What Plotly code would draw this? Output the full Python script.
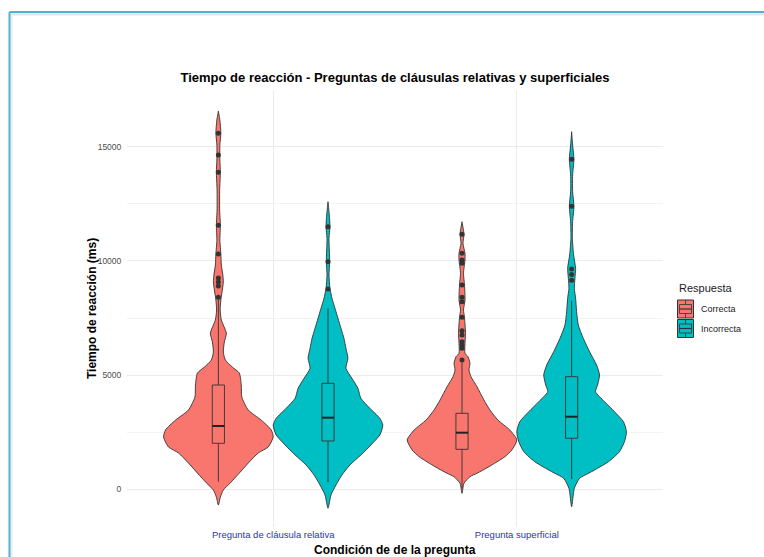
import plotly.graph_objects as go

# ---------------- data ----------------
categorias = ["Pregunta de cláusula relativa", "Pregunta superficial"]
respuestas = ["Correcta", "Incorrecta"]
colores = {"Correcta": "#F8766D", "Incorrecta": "#00BFC4"}

# violin density profiles (ms, relative half-width 0..55)
rel_cor_y = [-690, -340, -30, 280, 710, 1150, 1590, 1850, 2290, 2600, 3030, 3470, 4040, 4570, 5090,
             5350, 5660, 6010, 6450, 6840, 7410, 7850, 8290, 8730, 9080, 9380, 9820, 10300, 10910,
             11570, 12230, 13100, 13890, 14420, 15070, 15600, 16170, 16560]
rel_cor_w = [0, 2, 5, 12, 21, 30, 40, 50, 55, 53, 43, 30, 23.5, 23, 21, 14, 7, 5, 6, 8, 3, 1.8,
             2.5, 4, 5, 4.5, 3, 2.5, 1.5, 2, 1.3, 1.3, 2, 1.5, 1.5, 2.5, 1.5, 0]

rel_inc_y = [-832, -250, 188, 626, 1064, 1502, 1939, 2377, 2815, 3108, 3546, 3984, 4422, 4860, 5297,
             5735, 6173, 6611, 7049, 7486, 7924, 8362, 8800, 9382, 9964, 10989, 11497, 12009, 12591]
rel_inc_w = [0, 3, 8, 14, 22, 33, 43, 52, 55, 52, 42, 33, 30, 24, 18, 20, 18, 16, 13, 10, 7, 4, 2,
             1, 1.7, 1, 2, 1.3, 0]

sup_cor_y = [-175, 263, 552, 700, 989, 1427, 1721, 2159, 2596, 3034, 3472, 3909, 4492, 4930, 5223,
             5516, 5805, 5954, 6392, 6830, 7530, 7850, 8288, 8944, 9457, 10039, 10332, 10770, 11164,
             11716]
sup_cor_w = [0, 2, 8, 15, 27, 43, 50, 55, 48, 36, 28, 22, 15, 9, 7, 8, 6, 3, 3, 3.5, 2.5, 1.5, 3,
             2.5, 1.5, 3, 3, 1, 2, 0]

sup_inc_y = [-762, 44, 482, 771, 1208, 1646, 2084, 2522, 2960, 3397, 3835, 4273, 4566, 5004, 5442,
             6024, 6611, 7193, 7775, 8362, 8800, 9238, 9675, 10258, 10989, 11716, 12390, 13029,
             13760, 14447, 15073, 15656]
sup_inc_w = [0, 2.7, 8, 20, 37, 48, 53, 55, 52, 43, 33, 24, 26, 28, 25, 18, 11.7, 6.7, 5, 4, 2.7,
             3.3, 4, 2, 0.7, 1, 2.3, 1, 1, 2.3, 1, 0]

# boxplot statistics (ms): [relativa, superficial]
q1 = {"Correcta": [2014, 1751], "Incorrecta": [2115, 2233]}
mediana = {"Correcta": [2771, 2478], "Incorrecta": [3135, 3178]}
q3 = {"Correcta": [4566, 3327], "Incorrecta": [4641, 4930]}
bigote_inf = {"Correcta": [333, 44], "Incorrecta": [306, 451]}
bigote_sup = {"Correcta": [8300, 5550], "Incorrecta": [7924, 8257]}

# outliers (ms)
out_rel_cor = [15590, 14640, 13880, 11560, 10300, 9250, 9080, 8900, 8410]
out_rel_inc = [11500, 9960, 8770]
out_sup_cor = [11164, 10332, 10039, 9894, 8944, 8406, 8213, 7530, 6944, 6755, 6462, 6317, 6173, 5661]
out_sup_inc = [14450, 12390, 9650, 9410, 9150]

y_ticks = [0, 5000, 10000, 15000]
y_tick_labels = ["0", "5000", "10000", "15000"]

# ---------------- figure ----------------
DODGE = 0.225
MAXW = 55.0
BOXW = 0.025
OUTLINE = "#333333"

perfiles = {
    ("Correcta", 0): (rel_cor_y, rel_cor_w, out_rel_cor),
    ("Incorrecta", 0): (rel_inc_y, rel_inc_w, out_rel_inc),
    ("Correcta", 1): (sup_cor_y, sup_cor_w, out_sup_cor),
    ("Incorrecta", 1): (sup_inc_y, sup_inc_w, out_sup_inc),
}

fig = go.Figure()
for (resp, ci), (ys, ws, outs) in perfiles.items():
    c = ci + 1 + (-DODGE if resp == "Correcta" else DODGE)
    hw = [w / MAXW * DODGE for w in ws]
    xs = [c + h for h in hw] + [c - h for h in reversed(hw)]
    yy = list(ys) + list(reversed(ys))
    fig.add_trace(go.Scatter(x=xs, y=yy, mode="lines", fill="toself",
                             fillcolor=colores[resp],
                             line=dict(color=OUTLINE, width=0.9, shape="spline", smoothing=0.6),
                             showlegend=False, hoverinfo="skip"))
    # whiskers
    fig.add_trace(go.Scatter(x=[c, c, None, c, c],
                             y=[bigote_inf[resp][ci], q1[resp][ci], None, q3[resp][ci], bigote_sup[resp][ci]],
                             mode="lines", line=dict(color=OUTLINE, width=0.9),
                             showlegend=False, hoverinfo="skip"))
    # box
    fig.add_trace(go.Scatter(x=[c - BOXW, c + BOXW, c + BOXW, c - BOXW, c - BOXW],
                             y=[q1[resp][ci], q1[resp][ci], q3[resp][ci], q3[resp][ci], q1[resp][ci]],
                             mode="lines", fill="toself", fillcolor=colores[resp],
                             line=dict(color=OUTLINE, width=0.9),
                             showlegend=False, hoverinfo="skip"))
    # median
    fig.add_trace(go.Scatter(x=[c - BOXW, c + BOXW], y=[mediana[resp][ci]] * 2,
                             mode="lines", line=dict(color="#222222", width=2),
                             showlegend=False, hoverinfo="skip"))
    # outliers
    fig.add_trace(go.Scatter(x=[c] * len(outs), y=outs, mode="markers",
                             marker=dict(color="#333333", size=5),
                             showlegend=False, hoverinfo="skip"))

L, R, T, B = 127, 101, 91, 30
W, H = 764, 557
PW, PH = W - L - R, H - T - B


def px(xp):
    return (xp - L) / PW


def py(yp):
    return (H - B - yp) / PH


shapes = []
annotations = []
# outer frame
shapes.append(dict(type="line", xref="paper", yref="paper", x0=px(9.5), x1=px(780),
                   y0=py(14), y1=py(14), line=dict(color="#E6E6E6", width=3), layer="below"))
shapes.append(dict(type="line", xref="paper", yref="paper", x0=px(11.5), x1=px(11.5),
                   y0=py(13), y1=py(570), line=dict(color="#EDEDED", width=2), layer="below"))
shapes.append(dict(type="line", xref="paper", yref="paper", x0=px(9.5), x1=px(780),
                   y0=py(12), y1=py(12), line=dict(color="#4FB3D2", width=2)))
shapes.append(dict(type="line", xref="paper", yref="paper", x0=px(9.5), x1=px(9.5),
                   y0=py(12), y1=py(570), line=dict(color="#4FB3D2", width=2)))

# manual legend
annotations.append(dict(text="Respuesta", xref="paper", yref="paper", x=px(677), y=py(288),
                        xanchor="left", yanchor="middle", showarrow=False,
                        font=dict(size=11, color="#1A1A1A")))
for i, resp in enumerate(respuestas):
    top = 300 + i * 19.5
    x0, x1 = 677.5, 693.5
    y0, y1 = top, top + 18
    hgt = y1 - y0
    wid = x1 - x0
    shapes.append(dict(type="rect", xref="paper", yref="paper", x0=px(x0), x1=px(x1),
                       y0=py(y0), y1=py(y1), fillcolor=colores[resp],
                       line=dict(color=OUTLINE, width=1)))
    shapes.append(dict(type="rect", xref="paper", yref="paper",
                       x0=px(x0 + 0.125 * wid), x1=px(x0 + 0.875 * wid),
                       y0=py(y0 + 0.25 * hgt), y1=py(y0 + 0.75 * hgt),
                       line=dict(color=OUTLINE, width=0.8)))
    shapes.append(dict(type="line", xref="paper", yref="paper",
                       x0=px(x0 + 0.125 * wid), x1=px(x0 + 0.875 * wid),
                       y0=py(y0 + 0.5 * hgt), y1=py(y0 + 0.5 * hgt),
                       line=dict(color=OUTLINE, width=1.2)))
    for a, b in [(0.0, 0.25), (0.75, 1.0)]:
        shapes.append(dict(type="line", xref="paper", yref="paper",
                           x0=px(x0 + 0.5 * wid), x1=px(x0 + 0.5 * wid),
                           y0=py(y0 + a * hgt), y1=py(y0 + b * hgt),
                           line=dict(color=OUTLINE, width=0.8)))
    annotations.append(dict(text=resp, xref="paper", yref="paper", x=px(698.5), y=py(top + 9),
                            xanchor="left", yanchor="middle", showarrow=False,
                            font=dict(size=9, color="#1A1A1A")))

# axis titles
annotations.append(dict(text="<b>Tiempo de reacción (ms)</b>", xref="paper", yref="paper",
                        x=px(92), y=0.5, textangle=-90, xanchor="center", yanchor="middle",
                        showarrow=False, font=dict(size=12, color="#000000")))
annotations.append(dict(text="<b>Condición de de la pregunta</b>", xref="paper", yref="paper",
                        x=0.5, y=py(550), xanchor="center", yanchor="middle",
                        showarrow=False, font=dict(size=12, color="#000000")))

fig.update_layout(
    width=W, height=H,
    margin=dict(l=L, r=R, t=T, b=B),
    paper_bgcolor="white", plot_bgcolor="white",
    font=dict(family="Liberation Sans, Arial, sans-serif"),
    title=dict(text="<b>Tiempo de reacción - Preguntas de cláusulas relativas y superficiales</b>",
               x=0.5, xref="paper", xanchor="center",
               y=1 - 77 / H, yref="container", yanchor="middle",
               font=dict(size=13, color="#000000")),
    showlegend=False,
    shapes=shapes,
    annotations=annotations,
    xaxis=dict(range=[0.4, 2.6], tickvals=[1, 2], ticktext=categorias,
               showgrid=True, gridcolor="#EBEBEB", gridwidth=1, zeroline=False,
               showline=False, ticks="", tickfont=dict(size=9.5, color="#2B35A8"),
               fixedrange=True),
    yaxis=dict(range=[-1651, 17439], tickvals=y_ticks, ticktext=y_tick_labels,
               showgrid=True, gridcolor="#EBEBEB", gridwidth=1, zeroline=False,
               showline=False, ticks="outside", ticklen=3, tickcolor="rgba(0,0,0,0)",
               tickfont=dict(size=8.5, color="#4D4D4D"),
               minor=dict(tickvals=[2500, 7500, 12500], showgrid=True,
                          gridcolor="#F3F3F3", gridwidth=0.6),
               fixedrange=True),
)

fig.write_html("out.html", config={"displayModeBar": False},
               post_script="document.body.style.margin='0px';document.body.style.overflow='hidden';")
